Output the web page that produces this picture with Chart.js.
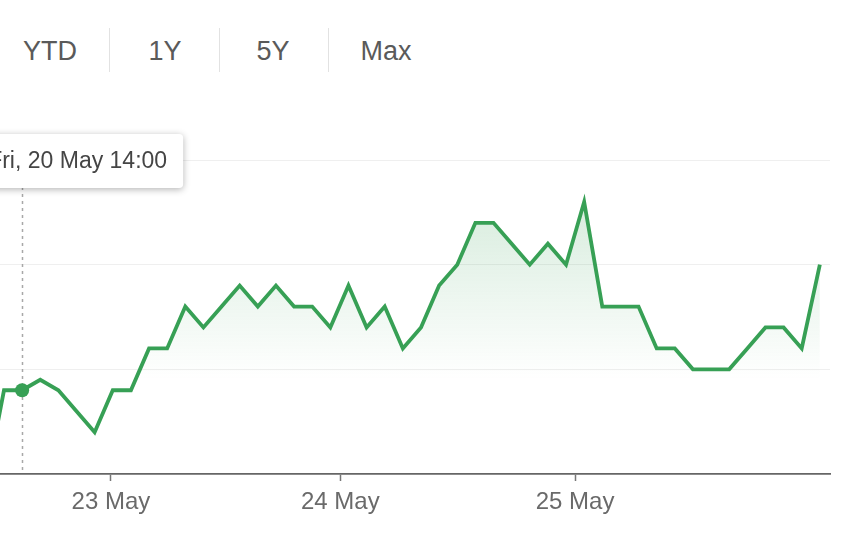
<!DOCTYPE html>
<html>
<head>
<meta charset="utf-8">
<script src="https://cdn.jsdelivr.net/npm/chart.js@4.4.1/dist/chart.umd.min.js"></script>
<style>
  html, body { margin: 0; padding: 0; background: #fff; }
  body { font-family: "Liberation Sans", Arial, sans-serif; }
  #stage { position: relative; width: 843px; height: 547px; overflow: hidden; background: #fff; }
  #wrap { position: absolute; left: -60px; top: 0; width: 903px; height: 547px; }
  .btn { position: absolute; top: 32px; height: 38px; line-height: 38px; font-size: 27px; color: #5a5a5a; text-align: center; width: 100px; }
  .sep { position: absolute; top: 28px; height: 44px; width: 1px; background: #e2e2e2; }
</style>
</head>
<body>
<div id="stage">
  <div class="btn" style="left:0px">YTD</div>
  <div class="sep" style="left:109px"></div>
  <div class="btn" style="left:115px">1Y</div>
  <div class="sep" style="left:219px"></div>
  <div class="btn" style="left:223px">5Y</div>
  <div class="sep" style="left:328px"></div>
  <div class="btn" style="left:336px">Max</div>
  <div id="wrap"><canvas id="c" width="903" height="547"></canvas></div>
</div>
<script>
// ---- data (one value per intraday sample, first one is just off the left edge) ----
const values = [-0.5, 4, 4, 4.5, 4, 3, 2, 4, 4, 6, 6, 8, 7, 8, 9, 8, 9, 8, 8, 7, 9, 7, 8, 6, 7, 9, 10, 12, 12, 11, 10, 11, 10, 13, 8, 8, 8, 6, 6, 5, 5, 5, 6, 7, 7, 6, 10];
const tickPositions = [5.9, 18.55, 31.5];
const tickLabels = ['23 May', '24 May', '25 May'];
const tooltipLabel = 'Fri, 20 May 14:00';
const activeIndex = 2;

const points = values.map((v, i) => ({ x: i - 1, y: v }));
const green = '#37a055';
const FONT = '"Liberation Sans", Arial, sans-serif';

const hoverPlugin = {
  id: 'hover',
  beforeDatasetsDraw(chart) {
    const p = chart.getDatasetMeta(0).data[activeIndex];
    const c = chart.ctx, a = chart.chartArea;
    c.save();
    c.strokeStyle = '#a8a8a8';
    c.lineWidth = 1.5;
    c.setLineDash([3, 4]);
    c.beginPath();
    c.moveTo(Math.round(p.x) + 0.5, a.top + 20);
    c.lineTo(Math.round(p.x) + 0.5, a.bottom);
    c.stroke();
    c.restore();
  },
  afterDraw(chart) {
    const p = chart.getDatasetMeta(0).data[activeIndex];
    const c = chart.ctx, a = chart.chartArea;
    const right = p.x + 161, left = p.x - 52, top = a.top - 27, h = 54;
    c.save();
    c.shadowColor = 'rgba(0,0,0,0.3)';
    c.shadowBlur = 7;
    c.shadowOffsetY = 1.5;
    c.fillStyle = '#fff';
    c.beginPath();
    c.roundRect(left, top + 1, right - left, h, 4);
    c.fill();
    c.restore();
    c.save();
    c.fillStyle = '#454545';
    c.font = '23px ' + FONT;
    c.textAlign = 'right';
    c.textBaseline = 'middle';
    c.fillText(tooltipLabel, right - 16, top + h / 2 + 2);
    c.restore();
  }
};

new Chart(document.getElementById('c'), {
  type: 'line',
  data: {
    datasets: [{
      data: points,
      borderColor: green,
      borderWidth: 3.8,
      tension: 0,
      fill: 'start',
      backgroundColor: (ctx) => {
        const a = ctx.chart.chartArea;
        if (!a) return 'rgba(55,160,85,0.1)';
        const g = ctx.chart.ctx.createLinearGradient(0, a.top, 0, a.bottom);
        g.addColorStop(0, 'rgba(55,160,85,0.24)');
        g.addColorStop(0.7, 'rgba(55,160,85,0)');
        g.addColorStop(1, 'rgba(55,160,85,0)');
        return g;
      },
      pointRadius: (ctx) => ctx.dataIndex === activeIndex ? 7 : 0,
      pointBackgroundColor: green,
      pointBorderWidth: 0,
      pointHoverRadius: 0
    }]
  },
  options: {
    responsive: false,
    animation: false,
    events: [],
    layout: { padding: { top: 160, right: 13, left: 0, bottom: 0 } },
    plugins: { legend: { display: false }, tooltip: { enabled: false } },
    scales: {
      x: {
        type: 'linear',
        min: -3.53,
        max: 45.56,
        afterBuildTicks: (s) => { s.ticks = tickPositions.map(v => ({ value: v })); },
        afterFit: (s) => { s.height = 73; },
        ticks: {
          autoSkip: false,
          maxRotation: 0,
          padding: 7,
          color: '#6a6a6a',
          font: { family: FONT, size: 24 },
          callback: (v, i) => tickLabels[i]
        },
        grid: { drawOnChartArea: false, drawTicks: true, tickLength: 7, tickColor: '#777', tickWidth: 1.5 },
        border: { display: true, color: '#666', width: 1.8 }
      },
      y: {
        min: 0,
        max: 15,
        afterFit: (s) => { s.width = 0; },
        ticks: { display: false, stepSize: 5 },
        grid: { color: (ctx) => ctx.tick && ctx.tick.value === 0 ? 'rgba(0,0,0,0)' : '#efefef', drawTicks: false, lineWidth: 1 },
        border: { display: false }
      }
    }
  },
  plugins: [hoverPlugin]
});
</script>
</body>
</html>
